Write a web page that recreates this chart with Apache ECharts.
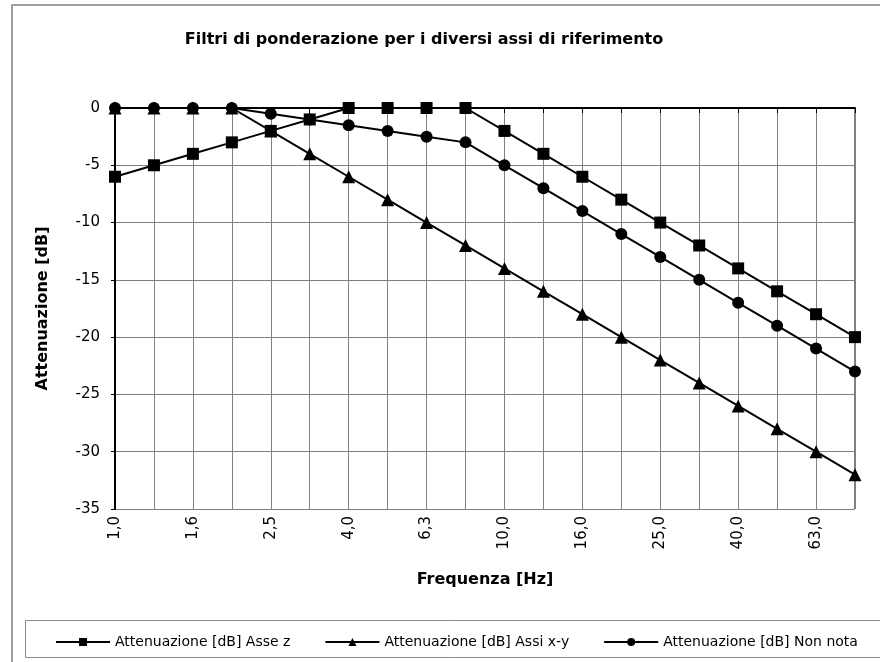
<!DOCTYPE html>
<html><head><meta charset="utf-8">
<script src="https://cdn.jsdelivr.net/npm/echarts@6/dist/echarts.min.js"></script>
<style>html,body{margin:0;padding:0;background:#fff}#c{width:880px;height:662px}</style>
</head><body><div id="c"></div>
<script>
const categories = ["1,0","1,25","1,6","2,0","2,5","3,15","4,0","5,0","6,3","8,0","10,0","12,5","16,0","20,0","25,0","31,5","40,0","50,0","63,0","80,0"];
const asseZ = [-6,-5,-4,-3,-2,-1,0,0,0,0,-2,-4,-6,-8,-10,-12,-14,-16,-18,-20];
const assiXY = [0,0,0,0,-2,-4,-6,-8,-10,-12,-14,-16,-18,-20,-22,-24,-26,-28,-30,-32];
const nonNota = [0,0,0,0,-0.5,-1,-1.5,-2,-2.5,-3,-5,-7,-9,-11,-13,-15,-17,-19,-21,-23];
const seriesNames = ["Attenuazione [dB] Asse z","Attenuazione [dB] Assi x-y","Attenuazione [dB] Non nota"];
const yTicks = {min:-35, max:0, interval:5};

const FONT = '"DejaVu Sans", sans-serif';
const chart = echarts.init(document.getElementById('c'), null, {renderer:'canvas'});
function mk(name, data, symbol, size){
  return {name, type:'line', data, symbol, symbolSize:size, showSymbol:true,
    lineStyle:{color:'#000', width:2}, itemStyle:{color:'#000'},
    emphasis:{disabled:true}, animation:false};
}
chart.setOption({
  animation:false,
  title:{text:'Filtri di ponderazione per i diversi assi di riferimento', left:419, top:27, textAlign:'center',
    textStyle:{fontFamily:FONT, fontWeight:'bold', fontSize:16, color:'#000'}},
  grid:{left:115, right:25, top:108, bottom:153},
  xAxis:{type:'category', data:categories, boundaryGap:false,
    name:'Frequenza [Hz]', nameLocation:'middle', nameGap:63,
    nameTextStyle:{fontFamily:FONT, fontWeight:'bold', fontSize:16, color:'#000'},
    axisLine:{lineStyle:{color:'#000', width:2}},
    axisTick:{show:true, interval:0, length:5, lineStyle:{color:'#000'}},
    axisLabel:{interval:1, rotate:90, fontFamily:FONT, fontSize:15, color:'#000', margin:7},
    splitLine:{show:true, interval:0, lineStyle:{color:'#808080', width:1}}},
  yAxis:{type:'value', min:yTicks.min, max:yTicks.max, interval:yTicks.interval,
    name:'Attenuazione [dB]', nameLocation:'middle', nameGap:64, nameRotate:90,
    nameTextStyle:{fontFamily:FONT, fontWeight:'bold', fontSize:16, color:'#000'},
    axisLine:{show:true, lineStyle:{color:'#000', width:2}},
    axisTick:{show:true, length:4, lineStyle:{color:'#000'}},
    axisLabel:{fontFamily:FONT, fontSize:15, color:'#000', margin:15},
    splitLine:{show:true, lineStyle:{color:'#808080', width:1}}},
  legend:{top:630, left:50, itemWidth:54, itemHeight:10, itemGap:34,
    textStyle:{fontFamily:FONT, fontSize:14, color:'#000'},
    data:seriesNames},
  graphic:[
    {type:'rect', shape:{x:12, y:5, width:900, height:700}, style:{fill:null, stroke:'#a0a0a0', lineWidth:2}, silent:true, z:-1},
    {type:'rect', shape:{x:25.5, y:620.5, width:900, height:37}, style:{fill:null, stroke:'#8a8a8a', lineWidth:1}, silent:true, z:-1},
    {type:'line', shape:{x1:855, y1:108, x2:855, y2:509}, style:{stroke:'#808080', lineWidth:2}, silent:true},
    {type:'line', shape:{x1:115, y1:108, x2:855, y2:108}, style:{stroke:'#808080', lineWidth:2}, silent:true, z:0}
  ],
  series:[
    mk(seriesNames[0], asseZ, 'rect', 12),
    mk(seriesNames[1], assiXY, 'triangle', 13),
    mk(seriesNames[2], nonNota, 'circle', 12)
  ]
});
</script></body></html>
